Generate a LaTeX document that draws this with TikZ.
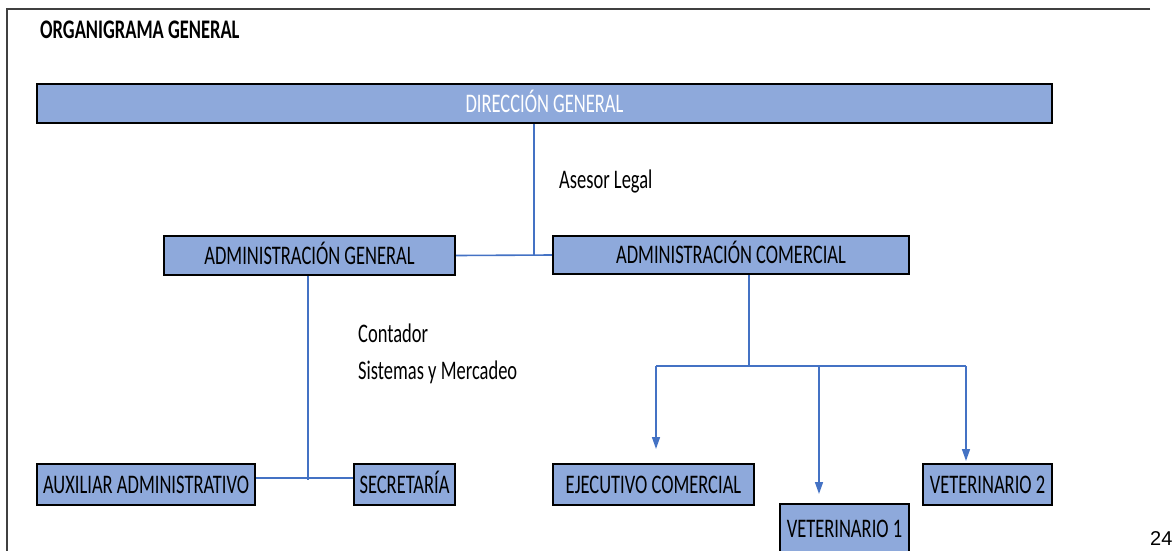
\documentclass[tikz,border=0pt]{standalone}
\usepackage{fontspec}
\setmainfont{Carlito}
\newfontfamily\arialfont{Liberation Sans}
\usetikzlibrary{arrows.meta}
\definecolor{boxfill}{RGB}{142,169,219}
\definecolor{linkblue}{RGB}{68,114,196}
\definecolor{framegray}{RGB}{64,64,64}
\newcommand\tallbox[1]{\scalebox{1}[1.45]{#1}}
\begin{document}
\begin{tikzpicture}[x=1pt,y=-1pt,
  orgbox/.style={draw=black, line width=2.4pt, fill=boxfill, inner sep=0pt,
    text height=17.3pt, text depth=0pt, font=\fontsize{18.5}{20}\selectfont},
  link/.style={draw=linkblue, line width=1.6pt},
  arrowlink/.style={link, -{Triangle[length=12pt,width=8pt]}},
  plainlabel/.style={inner sep=0pt, anchor=base west, font=\fontsize{18.5}{20}\selectfont}]
\useasboundingbox (0,0) rectangle (1176,550);
\clip (0,0) rectangle (1176,550);
% frame
\coordinate (fr1) at (1150,9);
\coordinate (fr2) at (7,9);
\coordinate (fr3) at (7,560);
\draw[framegray, line width=1.5pt] (fr1) -- (fr2) -- (fr3);
% title
\node[plainlabel, font=\fontsize{18.5}{20}\selectfont\bfseries] (title) at (40,38) {\tallbox{ORGANIGRAMA GENERAL}};
% boxes
\node[orgbox, minimum width=1015pt, minimum height=39pt, text=white] (dg) at (544.5,103.5) {\tallbox{DIRECCIÓN GENERAL}};
\node[orgbox, minimum width=291pt, minimum height=39pt] (ag) at (309.5,255.5) {\tallbox{ADMINISTRACIÓN GENERAL}};
\node[orgbox, minimum width=356pt, minimum height=38pt] (ac) at (731,255) {\tallbox{ADMINISTRACIÓN COMERCIAL}};
\node[orgbox, minimum width=218pt, minimum height=41pt] (aux) at (146,484.5) {\tallbox{AUXILIAR ADMINISTRATIVO}};
\node[orgbox, minimum width=101pt, minimum height=41pt] (sec) at (404.5,484.5) {\tallbox{SECRETARÍA}};
\node[orgbox, minimum width=201pt, minimum height=41pt] (ec) at (653.5,484.5) {\tallbox{EJECUTIVO COMERCIAL}};
\node[orgbox, minimum width=129pt, minimum height=50pt] (v1) at (844.5,529) {\tallbox{VETERINARIO 1}};
\node[orgbox, minimum width=129pt, minimum height=41pt] (v2) at (987.5,484.5) {\tallbox{VETERINARIO 2}};
% labels
\node[plainlabel] (asesor) at (559,188) {\tallbox{Asesor Legal}};
\node[plainlabel] (contador) at (358,342) {\tallbox{Contador}};
\node[plainlabel] (sistemas) at (358,379) {\tallbox{Sistemas y Mercadeo}};
\node[inner sep=0pt, anchor=base west, font=\arialfont\fontsize{20}{22}\selectfont] (page) at (1150,545) {24};
% connectors top
\coordinate (j1) at (534,255);
\draw[link] (dg.south -| j1) -- (j1);
\draw[link] (ag.east) -- (ac.west);
% admin general branch
\coordinate (j3) at (308,478);
\coordinate (j3b) at (308,480);
\draw[link] (ag.south -| j3) -- (j3b);
\draw[link] (aux.east |- j3) -- (sec.west |- j3);
% commercial branch
\coordinate (j2) at (749,366);
\coordinate (b1) at (656,366);
\coordinate (b2) at (819,366);
\coordinate (b3) at (966,366);
\coordinate (t1) at (656,449);
\coordinate (t2) at (819,494);
\coordinate (t3) at (966,461);
\draw[link] (ac.south -| j2) -- (j2);
\draw[link] (b1) -- (b3);
\draw[arrowlink] (b1) -- (t1);
\draw[arrowlink] (b2) -- (t2);
\draw[arrowlink] (b3) -- (t3);
\end{tikzpicture}
\end{document}
